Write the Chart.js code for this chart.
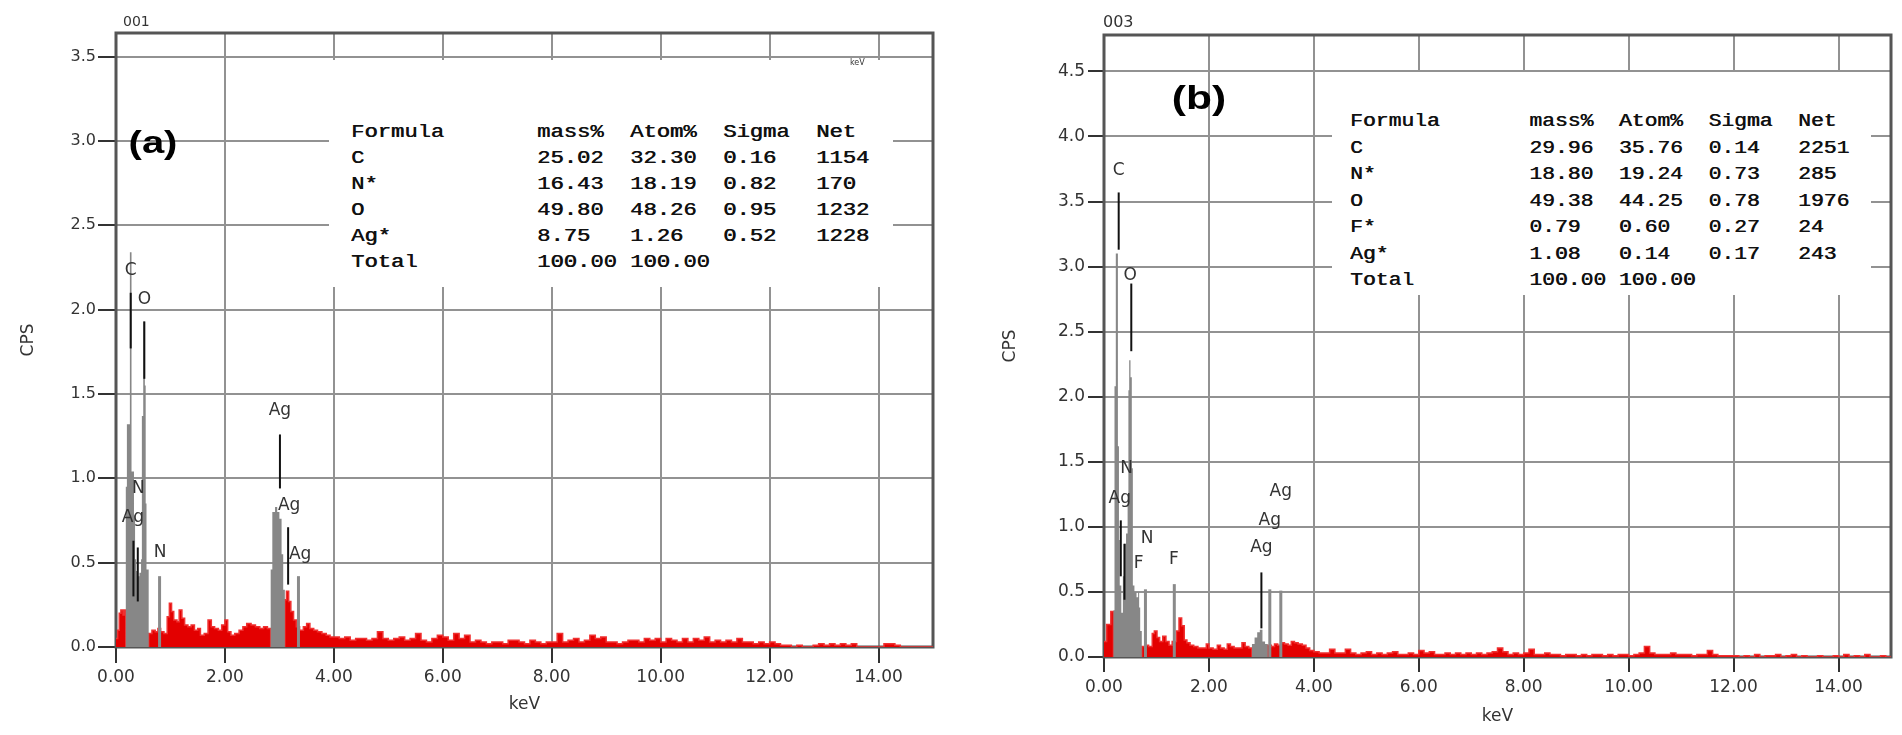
<!DOCTYPE html>
<html>
<head>
  <meta charset="utf-8">
  <title>EDS spectra (a) 001 and (b) 003</title>
  <script src="https://cdn.jsdelivr.net/npm/chart.js"></script>
  <style>
    body { margin: 0; background: #fff; }
    #page { position: relative; width: 1902px; height: 735px; overflow: hidden; font-family: "DejaVu Sans", sans-serif; }
    canvas { position: absolute; top: 0; }
    #chartA { left: 0; }
    #chartB { left: 950px; }
    .box { position: absolute; background: #fff; }
    .table { position: absolute; white-space: pre; font-family: "Liberation Mono", monospace; font-size: 18px;
             color: #111; text-shadow: 0.5px 0 0 #111; transform-origin: 0 0; }
    .tag { position: absolute; font-family: "Liberation Sans", Arial, sans-serif; font-weight: bold; color: #000; }
    .sid { position: absolute; font-size: 14px; color: #333; }
  </style>
</head>
<body>
<div id="page">
  <canvas id="chartA" width="950" height="735"></canvas>
  <canvas id="chartB" width="952" height="735"></canvas>
  <div class="box" style="left:329px;top:60px;width:564px;height:227px"></div>
  <div class="box" style="left:1332px;top:72px;width:539px;height:223px"></div>
  <div id="tableA" class="table" style="left:351px;top:119px;line-height:26px;transform:scaleX(1.23)"></div>
  <div id="tableB" class="table" style="left:1350px;top:108px;line-height:26.5px;transform:scaleX(1.185)"></div>
  <div class="tag" style="left:153px;top:142px;font-size:32px;transform:translate(-50%,-50%) scaleX(1.25)">(a)</div>
  <div class="tag" style="left:1199px;top:97px;font-size:34px;transform:translate(-50%,-50%) scaleX(1.25)">(b)</div>
  <div class="sid" style="left:123px;top:13px">001</div>
  <div class="sid" style="left:1103px;top:12px;font-size:16px">003</div>
  <div class="sid" style="left:850px;top:58px;font-size:8px">keV</div>
</div>

<script>
  // ---- spectrum (a), sample 001 ----
  // background counts [keV, cps], each value holds until the next energy;
  // peak windows set to 0 here (drawn grey below)
  const redLowA = [
    [0.00,0.05],[0.03,0.10],[0.06,0.20],[0.09,0.22],[0.13,0.19],[0.15,0.22],[0.18,0],
    [0.60,0.08],[0.66,0.10],[0.72,0.09],[0.77,0.11],[0.82,0.09],[0.88,0.08],[0.94,0.18],[0.98,0.26],
    [1.02,0.21],[1.06,0.16],[1.12,0.15],[1.16,0.22],[1.21,0.17],[1.26,0.13],[1.32,0.12],[1.38,0.13],
    [1.44,0.10],[1.50,0.11],[1.55,0.07],[1.62,0.08],[1.69,0.16],[1.75,0.12],[1.81,0.11],[1.88,0.10],
    [1.94,0.13],[2.00,0.16],[2.05,0.09],[2.11,0.07],[2.18,0.08],[2.26,0.10],[2.33,0.12],[2.40,0.14],
    [2.48,0.13],[2.56,0.12],[2.64,0.11],[2.71,0.12],[2.78,0.11],[2.84,0],
    [3.10,0.28],[3.13,0.33],[3.17,0.27],[3.21,0.21],[3.26,0.16],[3.31,0.12],[3.37,0.10],[3.44,0.12],
    [3.50,0.14],[3.56,0.11],[3.63,0.10],[3.70,0.09],[3.78,0.08],[3.86,0.07],[3.93,0.06]
  ];
  // 4.0 - 14.9 keV, 0.1 keV channels
  const tailA = [
    0.06,0.05,0.06,0.04,0.05,0.05,0.04,0.05,0.09,0.05,
    0.04,0.05,0.06,0.04,0.05,0.08,0.04,0.03,0.05,0.07,
    0.06,0.04,0.08,0.05,0.07,0.03,0.04,0.03,0.02,0.03,
    0.03,0.02,0.04,0.04,0.03,0.02,0.04,0.03,0.02,0.03,
    0.03,0.08,0.03,0.04,0.05,0.03,0.04,0.07,0.05,0.06,
    0.03,0.03,0.02,0.03,0.04,0.04,0.03,0.05,0.04,0.05,
    0.03,0.05,0.04,0.03,0.05,0.03,0.05,0.04,0.06,0.03,
    0.04,0.03,0.04,0.03,0.05,0.03,0.03,0.02,0.03,0.02,
    0.03,0.02,0.01,0.01,0.00,0.01,0.00,0.00,0.01,0.02,
    0.01,0.02,0.01,0.02,0.01,0.02,0.00,0.00,0.00,0.00,
    0.00,0.02,0.02,0.01,0.00,0.00,0.00,0.00,0.00,0.00
  ];
  // identified peak windows (grey)
  const grayA = [
    [0.00,0],[0.18,0.95],[0.20,1.32],[0.255,2.34],[0.285,1.04],[0.33,0.78],[0.35,0.52],[0.37,0.45],
    [0.40,0.42],[0.43,0.44],[0.46,0.52],[0.475,1.37],[0.50,1.93],[0.53,1.55],[0.545,0.85],[0.56,0.46],[0.60,0],
    [2.84,0.46],[2.87,0.80],[2.92,0.83],[2.96,0.80],[3.00,0.76],[3.04,0.55],[3.07,0.34],[3.10,0],[15,0]
  ];
  // KLM markers [keV, from, to]
  const markersA = [[0.27,1.77,2.10],[0.52,1.59,1.93],[0.32,0.30,0.63],[0.40,0.27,0.59],[3.01,0.94,1.26],[3.16,0.37,0.71]];
  const greyLinesA = [[0.80,0.42],[3.35,0.42]];
  const labelsA = [['C',0.27,2.23],['O',0.52,2.06],['N',0.41,0.94],['Ag',0.31,0.77],['N',0.81,0.56],
                   ['Ag',3.01,1.40],['Ag',3.18,0.84],['Ag',3.38,0.55]];
  const tableA = [['C','25.02','32.30','0.16','1154'],['N*','16.43','18.19','0.82','170'],
                  ['O','49.80','48.26','0.95','1232'],['Ag*','8.75','1.26','0.52','1228'],['Total','100.00','100.00','','']];

  // ---- spectrum (b), sample 003 ----
  const redLowB = [
    [0.00,0.12],[0.05,0.25],[0.13,0.35],[0.18,0],
    [0.72,0.08],[0.78,0.09],[0.85,0.08],[0.92,0.18],[0.96,0.20],[1.01,0.15],[1.06,0.12],[1.12,0.16],
    [1.18,0.12],[1.24,0.09],[1.30,0.12],[1.38,0.20],[1.43,0.30],[1.48,0.24],[1.53,0.13],[1.58,0.11],
    [1.64,0.09],[1.71,0.08],[1.79,0.07],[1.88,0.07],[1.95,0.10],[2.00,0.07],[2.08,0.06],[2.16,0.09],
    [2.22,0.07],[2.29,0.06],[2.35,0.10],[2.41,0.08],[2.48,0.07],[2.56,0.07],[2.63,0.11],[2.69,0.08],
    [2.76,0.07],[2.82,0],
    [3.12,0.09],[3.19,0.08],[3.25,0.10],[3.31,0.09],[3.37,0.11],[3.44,0.10],[3.51,0.09],[3.57,0.12],
    [3.63,0.11],[3.70,0.10],[3.78,0.09],[3.85,0.07],[3.92,0.05]
  ];
  const tailB = [
    0.04,0.03,0.03,0.06,0.03,0.03,0.06,0.03,0.02,0.03,
    0.04,0.02,0.03,0.02,0.03,0.04,0.02,0.02,0.03,0.02,
    0.05,0.03,0.04,0.02,0.02,0.03,0.02,0.03,0.02,0.03,
    0.02,0.03,0.02,0.03,0.04,0.07,0.04,0.02,0.03,0.02,
    0.03,0.06,0.02,0.02,0.03,0.02,0.02,0.01,0.02,0.02,
    0.01,0.02,0.01,0.02,0.02,0.01,0.02,0.01,0.02,0.02,
    0.01,0.02,0.03,0.08,0.03,0.02,0.02,0.02,0.03,0.02,
    0.02,0.02,0.01,0.02,0.02,0.05,0.02,0.01,0.01,0.01,
    0.01,0.00,0.01,0.00,0.02,0.00,0.01,0.01,0.02,0.00,
    0.01,0.02,0.00,0.01,0.00,0.00,0.01,0.00,0.00,0.01,
    0.00,0.02,0.00,0.01,0.00,0.02,0.00,0.00,0.01,0.00
  ];
  const grayB = [
    [0.00,0],[0.18,0.36],[0.20,2.08],[0.225,3.10],[0.265,1.62],[0.285,0.90],[0.30,0.55],[0.33,0.34],
    [0.36,0.62],[0.38,0.87],[0.42,0.95],[0.45,1.25],[0.465,2.05],[0.48,2.28],[0.505,2.15],[0.53,1.45],
    [0.55,0.55],[0.58,0.50],[0.62,0.46],[0.65,0.50],[0.67,0.38],[0.69,0.20],[0.72,0],
    [2.82,0.10],[2.87,0.15],[2.92,0.19],[2.97,0.21],[3.02,0.12],[3.07,0.10],[3.12,0],[15,0]
  ];
  const markersB = [[0.28,3.13,3.57],[0.52,2.35,2.87],[0.32,0.62,1.05],[0.39,0.44,0.87],[3.00,0.22,0.65]];
  const greyLinesB = [[0.79,0.52],[1.34,0.56],[3.16,0.52],[3.37,0.51]];
  const labelsB = [['C',0.28,3.74],['O',0.50,2.93],['N',0.43,1.45],['Ag',0.30,1.22],['N',0.82,0.91],
                   ['F',0.66,0.72],['F',1.33,0.75],['Ag',3.37,1.27],['Ag',3.16,1.05],['Ag',3.00,0.84]];
  const tableB = [['C','29.96','35.76','0.14','2251'],['N*','18.80','19.24','0.73','285'],
                  ['O','49.38','44.25','0.78','1976'],['F*','0.79','0.60','0.27','24'],
                  ['Ag*','1.08','0.14','0.17','243'],['Total','100.00','100.00','','']];

  const tableHead = ['Formula','mass%','Atom%','Sigma','Net'];
  const tailStart = 4.0, tailStep = 0.1, keVMax = 15;

  function toPoints(pairs) {
    return pairs.map(p => ({x: p[0], y: p[1]}));
  }

  function spectrum(low, tail) {
    const pts = toPoints(low);
    tail.forEach((v, i) => pts.push({x: +(tailStart + i * tailStep).toFixed(2), y: v}));
    pts.push({x: keVMax, y: tail[tail.length - 1]});
    return pts;
  }

  function fillTable(id, rows) {
    const line = r => r[0].padEnd(14) + r.slice(1, 4).map(c => c.padEnd(7)).join('') + r[4];
    document.getElementById(id).textContent = [tableHead].concat(rows).map(line).join('\n');
  }

  // element labels, placed in data units
  const peakLabels = {
    id: 'peakLabels',
    afterDatasetsDraw(chart, args, opts) {
      const {ctx, scales: {x, y}} = chart;
      ctx.save();
      ctx.font = '17px "DejaVu Sans"';
      ctx.fillStyle = '#333';
      ctx.textAlign = 'center';
      ctx.textBaseline = 'middle';
      opts.items.forEach(([t, kev, cps]) => ctx.fillText(t, x.getPixelForValue(kev), y.getPixelForValue(cps)));
      ctx.restore();
    }
  };

  const frame = {
    id: 'frame',
    beforeDatasetsDraw(chart) {
      const {ctx, chartArea: a} = chart;
      ctx.save();
      ctx.strokeStyle = '#555';
      ctx.lineWidth = 3;
      ctx.strokeRect(a.left, a.top, a.right - a.left, a.bottom - a.top);
      ctx.restore();
    }
  };

  function makeChart(id, cfg) {
    // 'before' in Chart.js: each value is held from its point up to the next point
    const datasets = [
      { data: spectrum(cfg.red, cfg.tail), stepped: 'before', fill: 'origin',
        backgroundColor: '#e30000', borderColor: '#f03030', borderWidth: 1.5, order: 4 },
      { data: toPoints(cfg.gray), stepped: 'before', fill: 'origin',
        backgroundColor: '#878787', borderColor: 'rgba(0,0,0,0)', borderWidth: 1, order: 3 }
    ];
    cfg.greyLines.forEach(l => datasets.push({
      data: [{x: l[0], y: 0}, {x: l[0], y: l[1]}], borderColor: '#8a8a8a', borderWidth: 3, fill: false, order: 2 }));
    cfg.markers.forEach(m => datasets.push({
      data: [{x: m[0], y: m[1]}, {x: m[0], y: m[2]}], borderColor: '#111', borderWidth: 2, fill: false, order: 1 }));

    const tickFont = {family: 'DejaVu Sans', size: 17};
    return new Chart(document.getElementById(id), {
      type: 'line',
      data: { datasets },
      plugins: [peakLabels, frame],
      options: {
        responsive: false,
        animation: false,
        events: [],
        layout: { padding: cfg.padding },
        elements: { point: { radius: 0 }, line: { tension: 0 } },
        plugins: { legend: { display: false }, tooltip: { enabled: false }, peakLabels: { items: cfg.labels } },
        scales: {
          x: {
            type: 'linear', min: 0, max: keVMax,
            afterFit: s => { s.height = cfg.xHeight; },
            border: { display: false },
            grid: { color: '#929292', lineWidth: 2, tickLength: cfg.xTick, tickColor: '#333', tickWidth: 2 },
            ticks: { stepSize: 2, includeBounds: false, autoSkip: false, maxRotation: 0, padding: cfg.xPad,
                     color: '#333', font: tickFont, callback: v => v.toFixed(2) },
            title: { display: true, text: 'keV', color: '#333', font: tickFont, padding: {top: 0, bottom: cfg.keVPad} }
          },
          y: {
            min: 0, max: cfg.yMax,
            afterFit: s => { s.width = cfg.yWidth; },
            border: { display: false },
            grid: { color: '#929292', lineWidth: 2, tickLength: cfg.yTick, tickColor: '#333', tickWidth: 2 },
            ticks: { stepSize: 0.5, includeBounds: false, padding: cfg.yPad, color: '#333',
                     font: {family: 'DejaVu Sans', size: cfg.yFont}, callback: v => v.toFixed(1) },
            title: { display: true, text: 'CPS', color: '#333', font: tickFont, padding: {top: cfg.cpsPad, bottom: 0} }
          }
        }
      }
    });
  }

  fillTable('tableA', tableA);
  fillTable('tableB', tableB);

  makeChart('chartA', {
    red: redLowA, tail: tailA, gray: grayA, markers: markersA, greyLines: greyLinesA, labels: labelsA,
    yMax: 3.64, padding: {left: 0, top: 33, right: 17, bottom: 0},
    yWidth: 116, xHeight: 88, yTick: 18, yPad: 2, xTick: 16, xPad: 4, yFont: 16, cpsPad: 18, keVPad: 20
  });
  makeChart('chartB', {
    red: redLowB, tail: tailB, gray: grayB, markers: markersB, greyLines: greyLinesB, labels: labelsB,
    yMax: 4.78, padding: {left: 0, top: 35, right: 11, bottom: 0},
    yWidth: 154, xHeight: 78, yTick: 16, yPad: 3, xTick: 15, xPad: 5, yFont: 17, cpsPad: 50, keVPad: 8
  });
</script>
</body>
</html>
